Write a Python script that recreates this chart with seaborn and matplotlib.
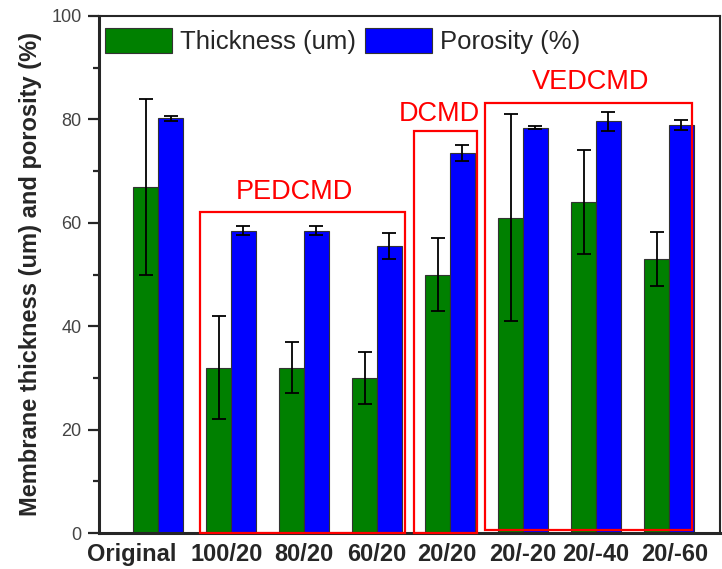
import numpy as np
import pandas as pd
import matplotlib
matplotlib.use("Agg")
import matplotlib.pyplot as plt
import matplotlib.transforms as mtransforms
from matplotlib.patches import Rectangle
import seaborn as sns

categories = ["Original", "100/20", "80/20", "60/20", "20/20", "20/-20", "20/-40", "20/-60"]
thickness = [67, 32, 32, 30, 50, 61, 64, 53]
thickness_err = [17, 10, 5, 5, 7, 20, 10, 5.2]
porosity = [80.2, 58.5, 58.5, 55.5, 73.5, 78.4, 79.6, 78.9]
porosity_err = [0.5, 0.8, 0.8, 2.5, 1.5, 0.3, 1.8, 0.9]
series = ["Thickness (um)", "Porosity (%)"]
colors = ["#008000", "#0000FF"]

df = pd.DataFrame({
    "cat": categories * 2,
    "value": thickness + porosity,
    "series": [series[0]] * len(categories) + [series[1]] * len(categories),
})
errs = [thickness_err, porosity_err]
vals = [thickness, porosity]

sns.set_style("ticks")
plt.rcParams["font.family"] = ["Liberation Sans", "DejaVu Sans"]

fig = plt.figure(figsize=(7.22, 5.69), dpi=100)
ax = fig.add_axes([99 / 722, 1 - 533 / 569, (720 - 99) / 722, (533 - 16) / 569])

sns.barplot(data=df, x="cat", y="value", hue="series", palette=colors,
            width=0.68, edgecolor="#333333", linewidth=0.8, ax=ax,
            legend=True, saturation=1)

for cont, e, v in zip(ax.containers, errs, vals):
    xs = [p.get_x() + p.get_width() / 2 for p in cont.patches]
    ax.errorbar(xs, v, yerr=e, fmt="none", ecolor="black", elinewidth=1.3,
                capsize=5, capthick=1.3, zorder=5)

ax.set_xlim(-0.81, 7.70)
ax.set_ylim(0, 100)
ax.set_yticks([0, 20, 40, 60, 80, 100])
ax.set_yticks([10, 30, 50, 70, 90], minor=True)
ax.tick_params(axis="y", which="major", direction="out", length=8, width=1.6,
               labelsize=13, labelcolor="#444444", pad=4.5)
ax.tick_params(axis="y", which="minor", direction="out", length=4, width=1.6)
ax.tick_params(axis="x", length=0, pad=7)
for lab in ax.get_xticklabels():
    lab.set_fontweight("bold")
    lab.set_fontsize(17)
ax.set_xlabel("")
ax.set_ylabel("Membrane thickness (um) and porosity (%)", fontsize=17,
              fontweight="bold", labelpad=7)

for side in ["left", "bottom"]:
    ax.spines[side].set_linewidth(2.2)
for side in ["top", "right"]:
    ax.spines[side].set_linewidth(1.5)
    ax.spines[side].set_visible(True)

handles, labels = ax.get_legend_handles_labels()
ax.legend(handles, labels, loc="upper left", bbox_to_anchor=(0.0097, 0.977),
          ncol=2, frameon=False, fontsize=18.5, handlelength=2.6,
          handleheight=1.15, handletextpad=0.31, columnspacing=0.35,
          borderaxespad=0, borderpad=0)

# group annotation boxes
boxes = [
    ("PEDCMD", (0.575, 0.0), 3.39 - 0.575, 62.1, (1.87, 66.0)),
    ("DCMD", (3.51, 0.0), 4.37 - 3.51, 77.8, (3.86, 81.0)),
    ("VEDCMD", (4.48, 0.6), 7.32 - 4.48, 82.6, (5.92, 87.2)),
]
for name, xy, w, h, txy in boxes:
    ax.add_patch(Rectangle(xy, w, h, fill=False, edgecolor="#FF0000",
                           linewidth=1.6, zorder=6, clip_on=False))
    ax.text(txy[0], txy[1], name, color="#FF0000", fontsize=19.5,
            ha="center", va="center", zorder=7)

# small horizontal nudges of tick labels as in the reference
shifts_px = {"Original": -26, "100/20": -4, "20/20": -3, "20/-60": 6}
for lab in ax.get_xticklabels():
    dx = shifts_px.get(lab.get_text(), 0)
    if dx:
        off = mtransforms.ScaledTranslation(dx / 100, 0, fig.dpi_scale_trans)
        lab.set_transform(lab.get_transform() + off)

fig.savefig("out.png", dpi=100)
